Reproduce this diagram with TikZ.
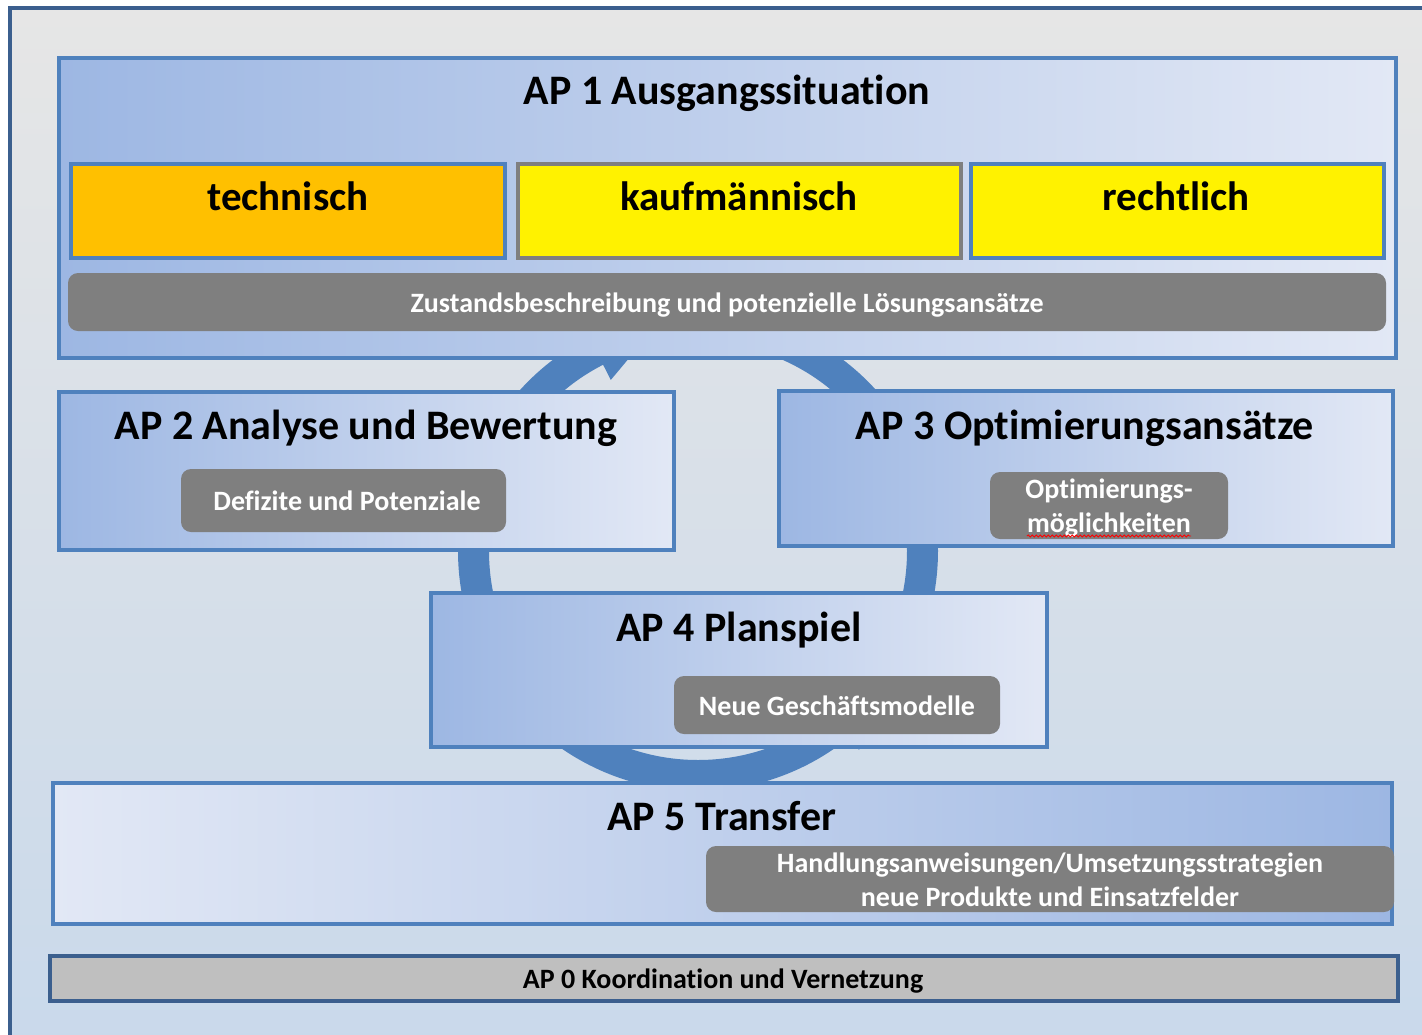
\documentclass[tikz,border=0pt]{standalone}
\usepackage{fontspec}
\setmainfont{Carlito}[Ligatures=NoCommon]
\usetikzlibrary{decorations.pathmorphing}
\definecolor{frameblue}{HTML}{3B5F8E}
\definecolor{apblue}{HTML}{4F81BD}
\definecolor{gdark}{HTML}{9DB7E3}
\definecolor{glight}{HTML}{E2E8F5}
\definecolor{grayfill}{HTML}{7F7F7F}
\definecolor{orangefill}{HTML}{FFC000}
\definecolor{ap0fill}{HTML}{BFBFBF}
\definecolor{bgtop}{HTML}{E6E6E6}
\definecolor{bgbot}{HTML}{C9D9EB}
\definecolor{ringblue}{HTML}{4F81BD}
\tikzset{
  apbox/.style={draw=apblue, line width=4pt, inner sep=0pt, outer sep=0pt, anchor=north west, left color=gdark, right color=glight},
  apboxrev/.style={draw=apblue, line width=4pt, inner sep=0pt, outer sep=0pt, anchor=north west, left color=glight, right color=gdark},
  catbox/.style={draw=apblue, line width=4pt, inner sep=0pt, outer sep=0pt, anchor=north west, fill=yellow},
  graybox/.style={fill=grayfill, rounded corners=10pt, inner sep=0pt, outer sep=0pt, anchor=north west},
  titletext/.style={anchor=base, font=\fontsize{42}{46}\selectfont\bfseries, text=black, inner sep=0pt},
  cattext/.style={anchor=base, font=\fontsize{41}{46}\selectfont\bfseries, text=black, inner sep=0pt},
  graytext/.style={anchor=base, font=\fontsize{28}{32}\selectfont\bfseries, text=white, inner sep=0pt},
  ringpart/.style={draw=ringblue, line width=31pt},
}
\begin{document}
\begin{tikzpicture}[x=1pt, y=-1pt]
\useasboundingbox (0,0) rectangle (1422,1034);
\clip (0,0) rectangle (1422,1034);
\fill[white] (0,0) rectangle (1422,1034);
% outer frame
\shade[top color=bgtop, bottom color=bgbot] (9.5,8.3) rectangle (1440,1050);
\draw[frameblue, line width=4pt] (9.5,1050) -- (9.5,8.3) -- (1440,8.3);
% cycle ring
\begin{scope}[shift={(698,551)}]
  \draw[ringpart] (0,0) circle (224.5);
  \fill[ringblue] (-117:192) -- (-117:240) -- (-102:224.5) -- cycle;
  \fill[ringblue] (51:195) -- (51:256) -- (38:224.5) -- cycle;
\end{scope}
% AP 1
\node[apbox, minimum width=1337pt, minimum height=300pt] (ap1) at (59,57.5) {};
\node[titletext] (ap1t) at (727,104) {AP 1 Ausgangssituation};
\node[catbox, fill=orangefill, minimum width=434pt, minimum height=94pt] (tech) at (71,164) {};
\node[cattext] (techt) at (288,210) {technisch};
\node[catbox, draw=grayfill, minimum width=443pt, minimum height=94pt] (kauf) at (518,164) {};
\node[cattext] (kauft) at (739,210) {kaufmännisch};
\node[catbox, minimum width=413pt, minimum height=94pt] (recht) at (971,164) {};
\node[cattext] (rechtt) at (1176,210) {rechtlich};
\node[graybox, minimum width=1318pt, minimum height=58pt] (zust) at (68,273) {};
\node[graytext] (zustt) at (727,312) {Zustandsbeschreibung und potenzielle Lösungsansätze};
% AP 2
\node[apbox, minimum width=615pt, minimum height=158pt] (ap2) at (59,392) {};
\node[titletext] (ap2t) at (366,439) {AP 2 Analyse und Bewertung};
\node[graybox, minimum width=325pt, minimum height=63pt] (defz) at (181,469) {};
\node[graytext] (defzt) at (347,510) {Defizite und Potenziale};
% AP 3
\node[apbox, minimum width=614pt, minimum height=155pt] (ap3) at (779,391) {};
\node[titletext] (ap3t) at (1085,439) {AP 3 Optimierungsansätze};
\node[graybox, minimum width=238pt, minimum height=67pt] (opt) at (990,472) {};
\node[graytext] (optt1) at (1109,498) {Optimierungs-};
\node[graytext] (optt2) at (1109,532) {möglichkeiten};
\draw[red, line width=0.8pt, decorate, decoration={snake, amplitude=1pt, segment length=4pt}]
  ([yshift=-4pt]optt2.base west) -- ([yshift=-4pt]optt2.base east);
% AP 4
\node[apbox, minimum width=616pt, minimum height=154pt] (ap4) at (431,593) {};
\node[titletext] (ap4t) at (739,641) {AP 4 Planspiel};
\node[graybox, minimum width=326pt, minimum height=58pt] (neue) at (674,676) {};
\node[graytext] (neuet) at (837,715) {Neue Geschäftsmodelle};
% AP 5
\node[apboxrev, minimum width=1339pt, minimum height=141pt] (ap5) at (53,783) {};
\node[titletext] (ap5t) at (722,830) {AP 5 Transfer};
\node[graybox, minimum width=688pt, minimum height=66pt] (hand) at (706,846) {};
\node[graytext] (handt1) at (1050,872) {Handlungsanweisungen/Umsetzungsstrategien};
\node[graytext] (handt2) at (1050,906) {neue Produkte und Einsatzfelder};
% AP 0
\node[draw=frameblue, fill=ap0fill, line width=4pt, inner sep=0pt, outer sep=0pt, anchor=north west, minimum width=1348pt, minimum height=45pt] (ap0) at (50,955.5) {};
\node[graytext, text=black] (ap0t) at (723,988) {AP 0 Koordination und Vernetzung};
\end{tikzpicture}
\end{document}
